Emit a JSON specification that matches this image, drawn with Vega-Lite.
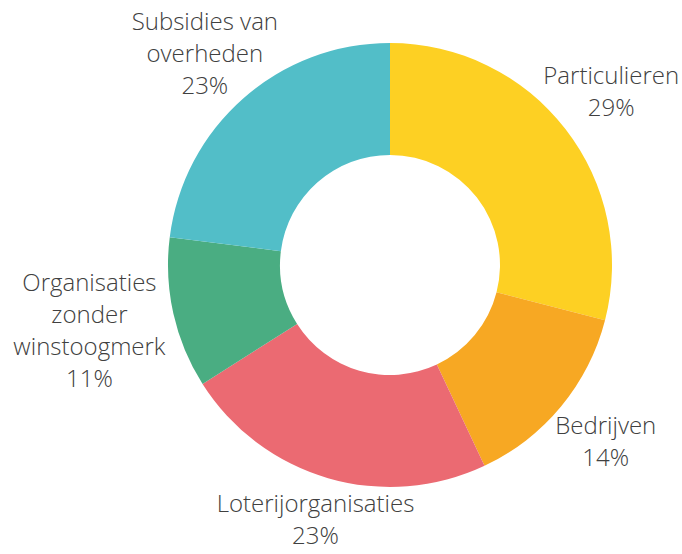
{
  "$schema": "https://vega.github.io/schema/vega-lite/v6.json",
  "width": 584,
  "height": 530,
  "autosize": "none",
  "padding": {"left": 98, "top": 0, "right": 0, "bottom": 24},
  "background": "white",
  "view": {"stroke": null},
  "data": {
    "values": [
      {"cat": "Particulieren", "label": "Particulieren", "value": 29, "order": 1},
      {"cat": "Bedrijven", "label": "Bedrijven", "value": 14, "order": 2},
      {"cat": "Loterijorganisaties", "label": "Loterijorganisaties", "value": 23, "order": 3},
      {"cat": "Organisaties zonder winstoogmerk", "label": "Organisaties|zonder|winstoogmerk", "value": 11, "order": 4},
      {"cat": "Subsidies van overheden", "label": "Subsidies van|overheden", "value": 23, "order": 5}
    ]
  },
  "transform": [
    {"calculate": "datum.label + '|' + datum.value + '%'", "as": "txt"}
  ],
  "encoding": {
    "theta": {"field": "value", "type": "quantitative", "stack": true},
    "order": {"field": "order", "type": "quantitative"}
  },
  "layer": [
    {
      "mark": {"type": "arc", "innerRadius": 110, "outerRadius": 222},
      "encoding": {
        "color": {
          "field": "cat",
          "type": "nominal",
          "legend": null,
          "scale": {
            "domain": ["Particulieren", "Bedrijven", "Loterijorganisaties", "Organisaties zonder winstoogmerk", "Subsidies van overheden"],
            "range": ["#FDD023", "#F7A823", "#EB6A72", "#4AAD82", "#52BEC8"]
          }
        }
      }
    },
    {
      "mark": {
        "type": "text",
        "radius": {"expr": "datum.cat === 'Organisaties zonder winstoogmerk' ? 308 : (datum.cat === 'Loterijorganisaties' ? 267 : 280)"},
        "dy": {"expr": "-(length(split(datum.txt, '|')) - 1) * 16"},
        "font": "Open Sans",
        "fontWeight": 300,
        "fontSize": 24,
        "lineHeight": 32,
        "lineBreak": "|",
        "align": "center",
        "baseline": "middle",
        "color": "#404040"
      },
      "encoding": {
        "text": {"field": "txt", "type": "nominal"}
      }
    }
  ]
}
